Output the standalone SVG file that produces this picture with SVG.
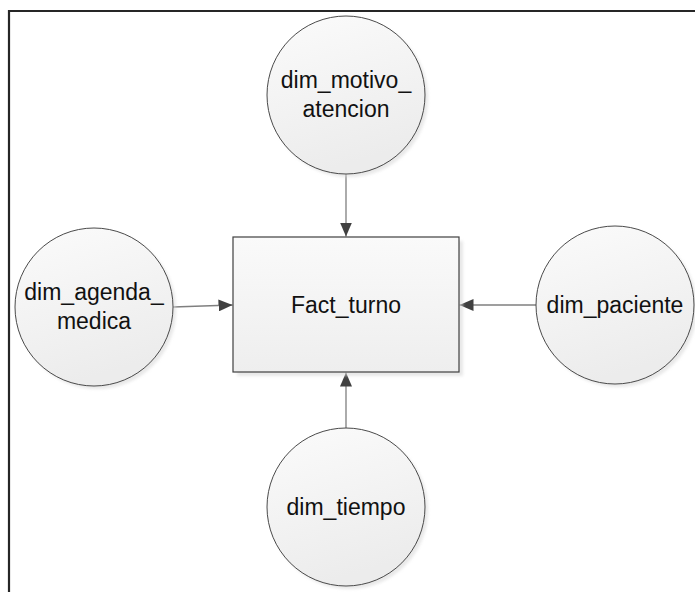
<svg xmlns="http://www.w3.org/2000/svg" width="695" height="592" viewBox="0 0 695 592">
  <style>
    .dim { fill: url(#dimFill); stroke: #4a4a4a; stroke-width: 1; }
    .shadow { fill: #d9d9d9; opacity: 0.6; }
    .fact { fill: url(#factFill); stroke: #404040; stroke-width: 1.2; }
    .label { font-family: "Liberation Sans", Arial, sans-serif; font-size: 23px; fill: #111; text-anchor: middle; }
    .link { stroke: #7f7f7f; stroke-width: 1.3; fill: none; marker-end: url(#arrow); }
    .frame { stroke: #262626; stroke-width: 2.2; fill: none; }
  </style>
  <defs>
    <linearGradient id="dimFill" x1="0" y1="0" x2="0.3" y2="1">
      <stop offset="0" stop-color="#fbfbfb"/>
      <stop offset="1" stop-color="#ececec"/>
    </linearGradient>
    <linearGradient id="factFill" x1="0" y1="0" x2="0" y2="1">
      <stop offset="0" stop-color="#fafafa"/>
      <stop offset="1" stop-color="#eeeeee"/>
    </linearGradient>
    <filter id="soft" x="-20%" y="-20%" width="140%" height="140%">
      <feGaussianBlur stdDeviation="1.5"/>
    </filter>
    <marker id="arrow" viewBox="0 0 14 12" refX="14" refY="6" markerWidth="14" markerHeight="12" markerUnits="userSpaceOnUse" orient="auto">
      <path d="M0,0 L14,6 L0,12 Z" fill="#404040"/>
    </marker>
  </defs>

  <!-- page frame (open to the right and bottom) -->
  <path class="frame" d="M9,592 V11 H695"/>

  <g id="connectors">
    <line class="link" x1="346" y1="174" x2="346" y2="236.5"/>
    <line class="link" x1="173" y1="307" x2="232.5" y2="305"/>
    <line class="link" x1="537" y1="305" x2="459.5" y2="305"/>
    <line class="link" x1="346" y1="428" x2="346" y2="372.5"/>
  </g>

  <g id="fact_turno">
    <rect class="shadow" x="237" y="241" width="226" height="135" filter="url(#soft)"/>
    <rect class="fact" x="233" y="237" width="226" height="135"/>
    <text class="label" x="346" y="313">Fact_turno</text>
  </g>

  <g id="dim_motivo_atencion">
    <circle class="shadow" cx="349" cy="98" r="79" filter="url(#soft)"/>
    <circle class="dim" cx="346" cy="95" r="79"/>
    <text class="label" x="346" y="88">dim_motivo_</text>
    <text class="label" x="346" y="117">atencion</text>
  </g>

  <g id="dim_agenda_medica">
    <circle class="shadow" cx="97" cy="310" r="79" filter="url(#soft)"/>
    <circle class="dim" cx="94" cy="307" r="79"/>
    <text class="label" x="94" y="300">dim_agenda_</text>
    <text class="label" x="94" y="329">medica</text>
  </g>

  <g id="dim_paciente">
    <circle class="shadow" cx="618" cy="308" r="79" filter="url(#soft)"/>
    <circle class="dim" cx="615" cy="305" r="79"/>
    <text class="label" x="615" y="313">dim_paciente</text>
  </g>

  <g id="dim_tiempo">
    <circle class="shadow" cx="349" cy="510" r="79" filter="url(#soft)"/>
    <circle class="dim" cx="346" cy="507" r="79"/>
    <text class="label" x="346" y="515">dim_tiempo</text>
  </g>
</svg>
